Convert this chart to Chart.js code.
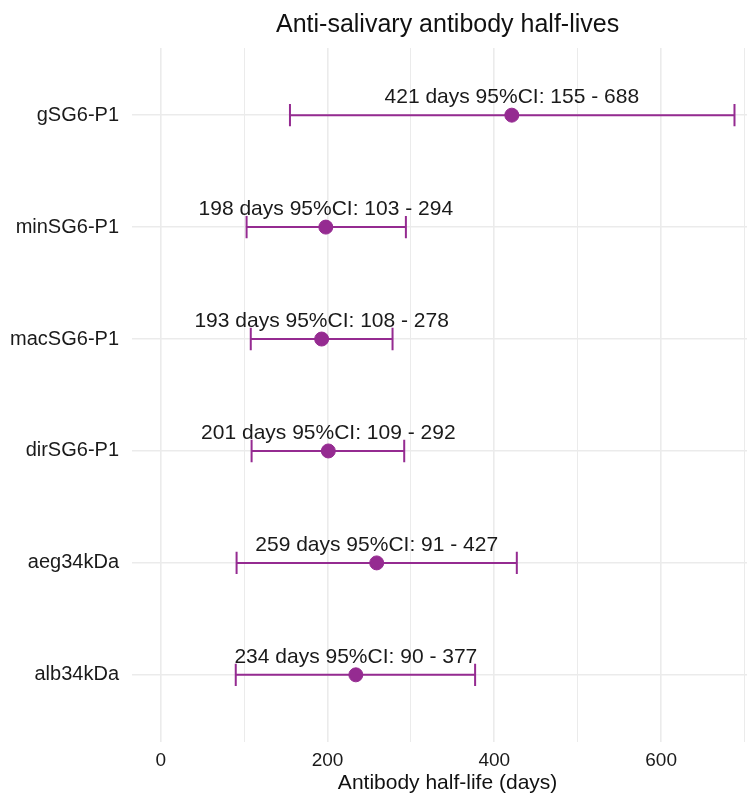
<!DOCTYPE html>
<html>
<head>
<meta charset="utf-8">
<script src="https://cdn.jsdelivr.net/npm/chart.js@4/dist/chart.umd.min.js"></script>
<style>
  html, body { margin: 0; padding: 0; background: #fff; }
  #wrap { width: 755px; height: 793px; }
</style>
</head>
<body>
<div id="wrap"><canvas id="c"></canvas></div>
<script>
const antigens = ['gSG6-P1', 'minSG6-P1', 'macSG6-P1', 'dirSG6-P1', 'aeg34kDa', 'alb34kDa'];
const halfLife = [421, 198, 193, 201, 259, 234];
const ciLow = [155, 103, 108, 109, 91, 90];
const ciHigh = [688, 294, 278, 292, 427, 377];
const xTicks = [0, 200, 400, 600];
const chartTitle = 'Anti-salivary antibody half-lives';
const xTitle = 'Antibody half-life (days)';

const purple = '#952b91';
const font = 'Liberation Sans, Arial, sans-serif';

// the original panel ran past the right edge (ggplot limits -34.4..722.4), titles centre on it
const panelMid = (-34.4 + 722.4) / 2;

// error bars + text labels, positioned through the chart scales
const errorBars = {
  id: 'errorBars',
  beforeDatasetsDraw(chart) {
    const { ctx, scales: { x, y } } = chart;
    ctx.save();
    ctx.strokeStyle = purple;
    ctx.lineWidth = 2;
    antigens.forEach((name, i) => {
      const py = y.getPixelForValue(i);
      const x0 = x.getPixelForValue(ciLow[i]);
      const x1 = x.getPixelForValue(ciHigh[i]);
      const cap = Math.abs(y.getPixelForValue(0.1) - y.getPixelForValue(0));
      ctx.beginPath();
      ctx.moveTo(x0, py); ctx.lineTo(x1, py);
      ctx.moveTo(x0, py - cap); ctx.lineTo(x0, py + cap);
      ctx.moveTo(x1, py - cap); ctx.lineTo(x1, py + cap);
      ctx.stroke();
    });
    ctx.restore();
  },
  afterDatasetsDraw(chart) {
    const { ctx, scales: { x, y } } = chart;
    ctx.save();
    ctx.fillStyle = '#1a1a1a';
    ctx.font = '21px ' + font;
    ctx.textAlign = 'center';
    ctx.textBaseline = 'alphabetic';
    antigens.forEach((name, i) => {
      const label = halfLife[i] + ' days 95%CI: ' + ciLow[i] + ' - ' + ciHigh[i];
      ctx.fillText(label, x.getPixelForValue(halfLife[i]), y.getPixelForValue(i) - 12);
    });
    const mid = x.getPixelForValue(panelMid);
    ctx.fillStyle = '#111';
    ctx.fillText(xTitle, mid, 789);
    ctx.font = '25px ' + font;
    ctx.fillText(chartTitle, mid, 32);
    ctx.restore();
  }
};

new Chart(document.getElementById('c'), {
  type: 'scatter',
  data: {
    datasets: [{
      data: antigens.map((a, i) => ({ x: halfLife[i], y: i })),
      backgroundColor: purple,
      borderColor: purple,
      pointRadius: 7,
      pointHoverRadius: 7,
    }]
  },
  options: {
    responsive: true,
    maintainAspectRatio: false,
    animation: false,
    events: [],
    layout: { padding: { top: 48, left: 0, right: 0, bottom: 0 } },
    plugins: {
      legend: { display: false },
      tooltip: { enabled: false },
      title: { display: false },
    },
    scales: {
      x: {
        type: 'linear',
        min: -34.4,
        max: 703,
        border: { display: false },
        grid: {
          color: '#ebebeb',
          lineWidth: ctx => (ctx.tick && ctx.tick.value % 200 === 0 ? 1.6 : 1),
          drawTicks: false,
        },
        afterBuildTicks: axis => {
          axis.ticks = [0, 100, 200, 300, 400, 500, 600, 700].map(v => ({ value: v }));
        },
        ticks: {
          color: '#1a1a1a',
          padding: 7,
          font: { family: font, size: 19 },
          callback: v => (xTicks.includes(v) ? String(v) : ''),
        },
        title: { display: false },
        afterFit: axis => { axis.height = 51; },
      },
      y: {
        type: 'linear',
        reverse: true,
        min: -0.6,
        max: 5.6,
        border: { display: false },
        grid: { color: '#ebebeb', lineWidth: 1.6, drawTicks: false },
        afterBuildTicks: axis => {
          axis.ticks = antigens.map((a, i) => ({ value: i }));
        },
        ticks: {
          color: '#1a1a1a',
          padding: 13,
          font: { family: font, size: 20 },
          callback: v => antigens[v],
        },
        afterFit: axis => { axis.width = 132; },
      },
    },
  },
  plugins: [errorBars],
});
</script>
</body>
</html>
